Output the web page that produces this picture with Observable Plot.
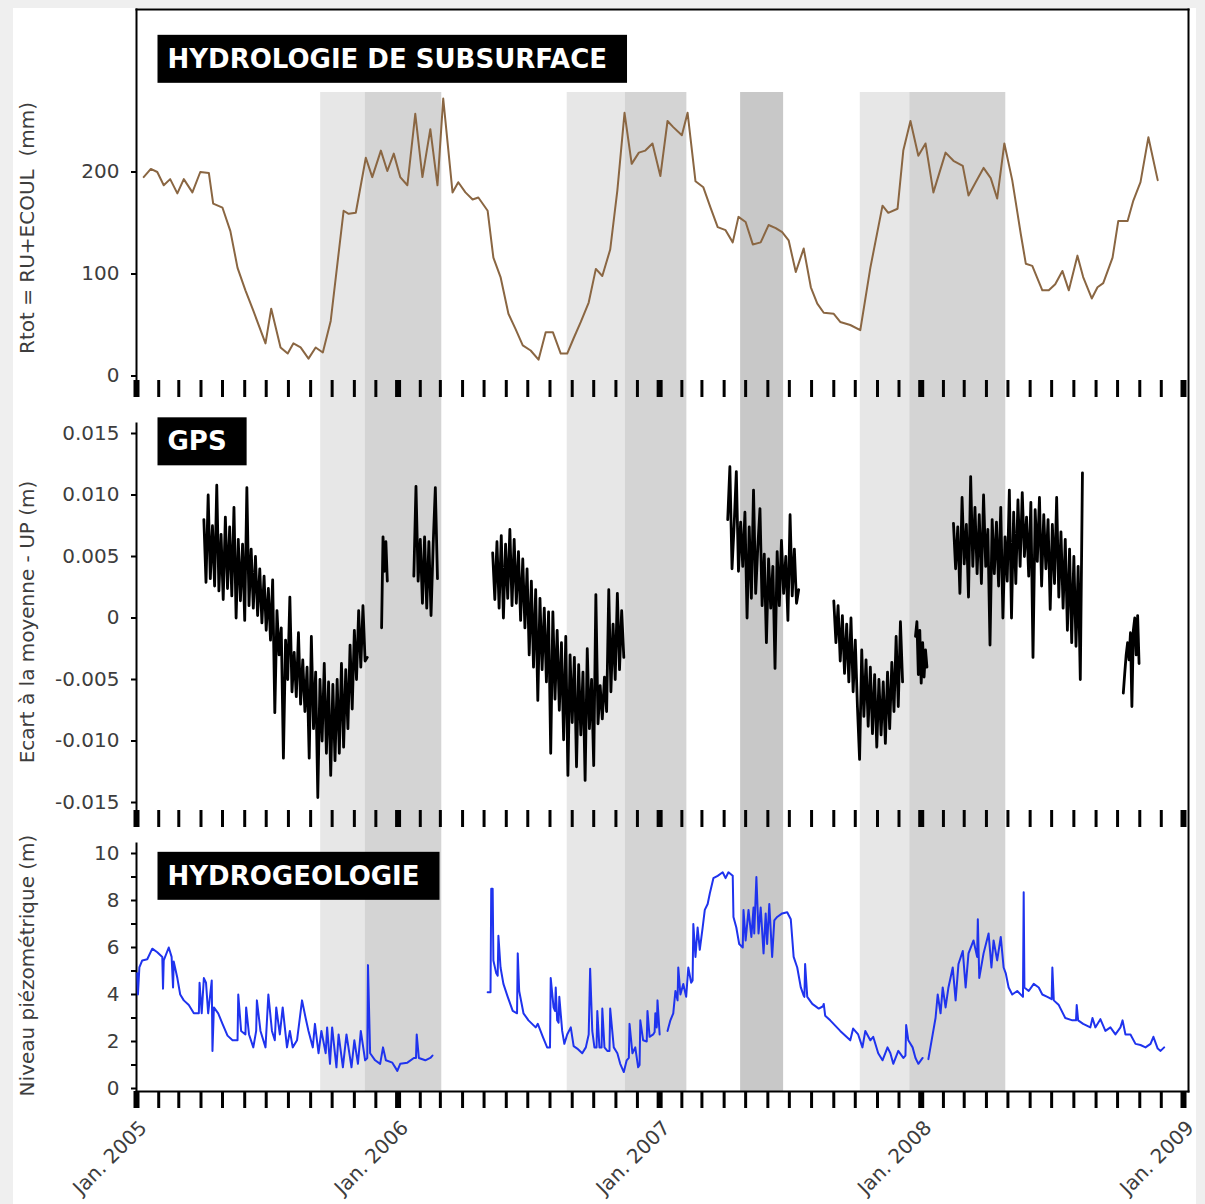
<!DOCTYPE html>
<html>
<head>
<meta charset="utf-8">
<script src="https://cdn.jsdelivr.net/npm/d3@7"></script>
<script src="https://cdn.jsdelivr.net/npm/@observablehq/plot@0.6"></script>
<style>
  body { margin: 0; background: #efefef; }
  #chart { position: relative; width: 1205px; height: 1204px; overflow: hidden; }
  #card { position: absolute; left: 13px; top: 8px; width: 1183px; height: 1196px; background: #fff; }
  #chart svg { position: absolute; left: 0; top: 0; }
</style>
</head>
<body>
<div id="chart"><div id="card"></div></div>
<script>
// ---- Data -----------------------------------------------------------------
// Time is stored as days since 1 January 2005.

// Rtot = RU + ECOUL (mm), ten-day values
const rtotDay = [10,20,29,38,47,57,66,78,89,101,107,120,131,141,152,163,180,188,201,211,
  219,229,240,250,260,271,289,296,306,320,329,341,350,359,368,378,389,399,410,420,
  428,441,449,459,469,477,490,498,508,519,529,539,550,561,571,581,592,601,610,620,
  631,641,650,661,671,681,691,701,710,720,731,741,749,761,769,780,791,801,811,822,
  832,840,850,860,871,882,892,901,910,920,931,941,950,959,973,982,996,1010,1024,1041,
  1049,1062,1070,1080,1091,1101,1112,1129,1140,1153,1161,1171,1182,1192,1201,1211,1222,1234,1241,1250,
  1264,1273,1282,1292,1301,1313,1321,1333,1341,1349,1362,1370,1383,1391,1401,1412,1425];
const rtotValue = [195,203,200,187,193,179,193,180,200,199,169,165,142,106,84,64,32,66,28,22,
  32,28,17,28,23,54,162,159,160,214,195,221,201,218,195,187,257,195,242,187,
  272,180,190,180,173,175,162,116,97,61,46,30,25,16,43,43,22,22,37,53,
  72,105,98,124,182,258,208,219,221,228,196,250,244,236,258,191,185,165,146,143,
  131,156,151,129,131,148,145,141,133,102,125,87,71,62,61,53,50,45,106,167,
  160,164,221,250,216,228,180,219,211,206,177,190,204,194,174,228,192,139,110,108,
  84,84,90,103,84,118,97,76,87,91,116,152,152,172,190,234,192];

// GPS vertical component, deviation from the mean (mm), one run per observation campaign
const gpsA = {start: 94, step: 3, mm: [8.0,2.9,10.0,3.2,7.5,2.6,10.8,2.2,6.8,1.5,8.2,2.4,7.4,1.8,9.0,0.0,6.4,1.4,6.0,-0.2,
  10.6,1.0,5.6,0.8,5.0,0.2,4.0,-0.4,3.4,-1.0,2.4,-1.8,3.1,-7.7,0.6,-3.0,-0.8,-11.4,-1.8,-5.0,
  1.7,-6.0,-2.8,-6.4,-1.2,-7.0,-3.4,-7.6,-4.0,-11.4,-1.5,-9.0,-4.4,-14.6,-5.0,-10.0,-3.7,-11.0,-5.2,-12.8,
  -5.4,-11.6,-5.0,-11.0,-3.7,-10.5,-4.2,-9.0,-2.2,-7.4,-1.0,-5.0,0.6,-4.0,1.0,-3.5,-3.2]};
const gpsB = {start: 342, step: 2, mm: [-0.8,6.6,3.8,6.2,3.0]};
const gpsC = {start: 387, step: 3, mm: [3.4,10.7,3.0,6.4,1.2,6.6,0.8,6.2,0.2,6.0,10.6,3.2]};
const gpsD = {start: 497, step: 3, mm: [5.3,1.5,6.2,0.8,6.7,0.0,6.0,1.6,7.2,1.0,6.4,1.2,5.4,-0.2,4.8,-0.8,4.0,-3.0,3.0,-4.0,
  2.3,-6.7,1.6,-4.2,0.8,-5.2,0.5,-11.0,0.5,-6.6,-1.0,-7.5,-2.0,-9.9,-1.5,-12.8,-3.0,-8.5,-3.2,-12.1,
  -3.8,-9.5,-4.4,-13.2,-2.5,-9.0,-5.0,-12.0,1.9,-8.6,-5.5,-8.2,-4.8,-7.6,2.3,-6.0,-0.5,-5.0,2.0,-4.2,0.6,-3.2]};
const gpsE = {start: 825, step: 3, mm: [8.0,12.3,4.0,7.6,11.9,3.8,7.8,4.2,8.6,0.0,7.4,1.6,10.4,2.0,5.8,8.9,1.0,5.2,-2.0,4.8,
  0.8,4.2,-4.1,5.4,1.0,6.3,2.0,5.0,-0.2,8.4,1.8,5.6,1.2,2.3]};
const gpsF = {start: 973, step: 3, mm: [1.4,-2.0,1.0,-3.5,0.2,-4.5,-0.5,-5.2,0.0,-6.0,-1.8,-7.2,-11.5,-2.6,-8.0,-3.4,-8.8,-4.0,-9.4,-4.6,
  -10.5,-5.0,-9.5,-5.2,-10.2,-4.4,-9.0,-3.6,-7.6,-1.5,-7.2,-0.3,-5.2]};
const gpsG = {start: 1087, step: 2, mm: [-1.5,-0.3,-4.6,-1.0,-5.3,-2.0,-4.8,-2.6,-4.0]};
const gpsH = {start: 1140, step: 3, mm: [7.7,4.0,7.4,2.0,9.8,4.4,7.6,1.7,11.5,4.2,9.0,3.6,8.4,2.8,10.0,4.2,7.2,-2.2,8.0,3.6,
  7.8,2.6,9.0,0.0,6.6,3.0,10.4,0.0,8.6,2.8,9.6,4.2,10.2,5.0,8.2,3.4,9.4,-3.2,8.8,4.6,
  9.8,2.6,8.4,4.0,8.0,0.7,7.6,2.8,9.8,1.7,7.0,0.8,6.4,-1.0,5.6,-2.0,5.0,-2.3,4.2,-5.0,11.8]};
const gpsI = {start: 1377, step: 2, mm: [-6.1,-4.5,-3.0,-2.0,-3.4,-1.2,-7.2,-1.0,0.0,-3.0,0.2,-3.7]};

// Piezometric level (m), [day, level] pairs per continuous record
const piezoA = [[1,4.9],[2,4.0],[4,5.15],[8,5.45],[15,5.5],[22,5.95],[29,5.8],[36,5.6],[37,4.25],[38,5.45],
  [45,6.0],[49,5.6],[51,4.3],[52,5.4],[57,4.7],[61,4.0],[66,3.75],[73,3.55],[80,3.2],[87,3.2],
  [88,4.5],[91,3.2],[94,4.7],[97,4.5],[100,3.2],[105,4.6],[106,1.6],[108,3.45],[114,3.2],[120,2.75],
  [127,2.25],[134,2.05],[141,2.05],[142,4.0],[146,2.45],[152,2.3],[153,3.45],[157,2.3],[163,1.75],[167,2.45],
  [168,3.75],[173,2.45],[180,1.75],[184,4.0],[189,2.45],[193,2.05],[195,3.45],[200,2.3],[204,3.45],[210,1.75],
  [214,2.45],[218,1.75],[224,2.05],[231,3.75],[236,3.0],[240,2.45],[246,1.75],[249,2.75],[254,1.5],[258,2.45],
  [264,1.5],[266,2.6],[270,1.05],[273,2.6],[279,0.9],[282,2.3],[288,0.9],[293,2.3],[300,0.9],[304,2.05],
  [309,1.05],[313,2.45],[319,1.2],[322,1.3],[323,5.25],[326,1.5],[333,1.2],[340,1.05],[344,1.75],[348,1.2],
  [357,1.1],[364,0.75],[368,1.05],[378,1.1],[387,1.3],[390,1.3],[391,2.3],[394,1.3],[403,1.2],[410,1.3],[413,1.4]];
const piezoB = [[490,4.1],[494,4.1],[495,8.5],[497,8.5],[498,5.45],[502,4.9],[504,4.8],[505,6.5],[508,5.15],[512,4.45],
  [518,3.9],[525,3.3],[531,3.2],[532,5.75],[534,4.15],[540,3.2],[547,2.9],[557,2.6],[560,2.75],[567,2.2],
  [573,1.75],[577,1.75],[578,4.7],[582,3.45],[584,3.3],[585,4.3],[587,2.9],[589,2.8],[590,3.9],[594,2.45],
  [597,1.9],[601,2.3],[606,2.6],[610,1.8],[615,1.7],[622,1.5],[627,1.75],[631,2.3],[633,5.1],[636,2.45],
  [639,1.75],[642,1.75],[643,3.3],[646,1.75],[649,1.75],[650,3.4],[653,1.75],[657,1.6],[660,1.6],[661,3.4],
  [666,1.75],[671,1.5],[675,1.05],[680,0.7],[684,1.2],[687,1.3],[688,2.75],[692,1.5],[696,1.75],[700,0.9],
  [702,1.0],[703,2.9],[707,2.05],[712,2.0],[713,3.3],[716,2.2],[721,2.3],[723,2.4],[724,3.2],[726,2.6],
  [727,3.75],[730,2.3]];
const piezoC = [[741,2.45],[745,2.9],[749,3.2],[752,4.15],[755,3.75],[756,5.15],[759,4.0],[763,4.45],[767,3.9],[770,5.15],
  [774,4.5],[776,4.6],[777,7.0],[780,5.6],[783,6.85],[786,5.9],[790,6.85],[793,7.6],[797,7.85],[800,8.3],
  [805,8.95],[811,9.05],[818,9.2],[822,8.95],[826,9.2],[832,9.05],[833,7.3],[837,6.85],[841,6.15],[846,6.0],
  [847,7.6],[850,6.3],[854,7.6],[858,6.45],[861,7.7],[862,6.6],[865,9.0],[868,6.6],[871,7.7],[875,5.75],
  [878,7.45],[880,6.15],[883,7.85],[887,5.6],[890,7.15],[894,7.3],[901,7.45],[908,7.5],[913,7.2],[917,5.6],
  [922,5.15],[927,4.3],[931,3.95],[932,3.9],[933,5.3],[936,3.9],[943,3.6],[952,3.4],[958,3.5],[959,3.6],
  [961,3.1],[968,2.9],[982,2.45],[996,2.05],[1000,2.55],[1007,2.3],[1013,1.75],[1017,2.45],[1024,2.05],[1028,2.2],
  [1035,1.5],[1041,1.2],[1048,1.75],[1052,1.5],[1056,1.05],[1063,1.6],[1070,1.3],[1073,1.4],[1074,2.7],[1077,2.05],
  [1083,1.75],[1087,1.3],[1091,1.05],[1097,1.3]];
const piezoD = [[1105,1.25],[1111,2.3],[1115,3.0],[1118,4.0],[1122,3.2],[1125,4.3],[1129,3.45],[1133,4.3],[1139,5.15],[1143,3.75],
  [1147,5.3],[1153,5.85],[1157,4.3],[1161,5.75],[1168,6.3],[1173,5.6],[1174,7.2],[1176,4.7],[1182,5.75],[1189,6.6],
  [1193,5.15],[1196,6.3],[1201,5.45],[1206,6.45],[1210,5.15],[1213,4.9],[1217,4.3],[1222,4.0],[1229,4.15],[1237,3.9],
  [1238,8.35],[1239,4.3],[1245,4.15],[1252,4.45],[1259,4.3],[1264,4.0],[1271,3.9],[1277,3.8],[1278,5.15],[1280,3.75],
  [1287,3.55],[1296,3.0],[1306,2.9],[1311,2.9],[1312,3.55],[1314,2.9],[1321,2.75],[1331,2.6],[1334,3.0],[1338,2.6],
  [1345,2.95],[1352,2.45],[1359,2.6],[1366,2.3],[1373,2.6],[1376,2.9],[1380,2.3],[1387,2.3],[1394,1.9],[1401,1.85],
  [1408,1.75],[1415,1.9],[1419,2.2],[1425,1.7],[1429,1.6],[1434,1.75]];

// Shaded periods
const periodStart = ["2005-09-15","2005-11-16","2006-08-25","2006-11-14","2007-04-24","2007-10-08","2007-12-16"];
const periodEnd   = ["2005-11-16","2006-03-03","2006-11-14","2007-02-08","2007-06-23","2007-12-16","2008-04-28"];
const periodTone  = ["light","mid","light","mid","dark","light","mid"];

// Panel headings and axis titles
const panelNames = ["HYDROLOGIE DE SUBSURFACE", "GPS", "HYDROGEOLOGIE"];
const yTitles = ["Rtot = RU+ECOUL \u00a0(mm)", "Ecart à la moyenne - UP (m)", "Niveau piézométrique (m)"];

// ---- Derived tables --------------------------------------------------------
const t0 = Date.UTC(2005, 0, 1);
const at = d => new Date(t0 + d * 864e5);

const rtot = rtotDay.map((d, i) => ({date: at(d), value: rtotValue[i]}));
const gps = [gpsA, gpsB, gpsC, gpsD, gpsE, gpsF, gpsG, gpsH, gpsI]
  .flatMap((s, k) => s.mm.map((v, i) => ({date: at(s.start + i * s.step), up: v / 1000, run: k})));
const piezo = [piezoA, piezoB, piezoC, piezoD]
  .flatMap((s, k) => s.map(([d, v]) => ({date: at(d), level: v, run: k})));
const periods = periodStart.map((s, i) => ({start: new Date(s), end: new Date(periodEnd[i]), tone: periodTone[i]}));

// ---- Layout ----------------------------------------------------------------
const W = 1205, H = 1204;
const LEFT = 136, RIGHT = 1188;
const months = d3.utcMonth.range(new Date(Date.UTC(2005, 0, 1)), new Date(Date.UTC(2009, 0, 2)));
const years = d3.utcYear.range(new Date(Date.UTC(2005, 0, 1)), new Date(Date.UTC(2009, 0, 2)));
const x = {type: "utc", domain: [new Date(Date.UTC(2005, 0, 1)), new Date(Date.UTC(2009, 0, 1))], range: [LEFT, 1183]};
const style = {fontFamily: "'DejaVu Sans', sans-serif", fontSize: "20px", background: "transparent", overflow: "visible", color: "black"};
const textColor = "#3d3d3d";

// month ticks with thicker year ticks, hanging below a panel
const tickRow = () => [
  Plot.axisX({ticks: months, tickSize: 17, tickFormat: () => "", stroke: "black", strokeWidth: 3, label: null}),
  Plot.axisX({ticks: years, tickSize: 17, tickFormat: () => "", stroke: "black", strokeWidth: 6, label: null})
];
const yTitle = (text, dy) => Plot.text([text], {text: d => d, frameAnchor: "left", textAnchor: "middle", lineAnchor: "middle",
  rotate: -90, dx: 27 - LEFT, dy, fill: textColor});
const heading = (text, dy) => Plot.text([text], {text: d => d, frameAnchor: "top-left", dx: 31, dy, textAnchor: "start",
  lineAnchor: "middle", fill: "white", fontWeight: "bold", fontSize: 26});
const frameFor = (top, bottom) => ({width: W, height: H, marginTop: top, marginBottom: H - bottom, marginLeft: LEFT, marginRight: W - RIGHT});

// shaded periods and the right edge of the box
const base = Plot.plot({
  ...frameFor(9, 1091), style,
  x: {...x, axis: null},
  color: {domain: ["light", "mid", "dark"], range: ["#e7e7e7", "#d4d4d4", "#c8c8c8"]},
  marks: [
    Plot.barX(periods, {x1: "start", x2: "end", fill: "tone", insetTop: 83}),
    Plot.frame({anchor: "right", strokeWidth: 2})
  ]
});

// subsurface hydrology
const p1 = Plot.plot({
  ...frameFor(9, 380), style, x,
  y: {domain: [0, 200], range: [375.5, 171.5]},
  marks: [
    Plot.frame({anchor: "top", strokeWidth: 2}),
    Plot.frame({anchor: "left", strokeWidth: 2}),
    ...tickRow(),
    Plot.axisY({ticks: [0, 100, 200], tickSize: 5, tickPadding: 12, stroke: "black", strokeWidth: 2, color: textColor, label: null}),
    yTitle(yTitles[0], 33),
    Plot.line(rtot, {x: "date", y: "value", stroke: "#8a6642", strokeWidth: 2}),
    heading(panelNames[0], 50)
  ]
});

// GPS
const p2 = Plot.plot({
  ...frameFor(423, 810), style, x,
  y: {domain: [-0.015, 0.015], range: [802, 433]},
  marks: [
    Plot.frame({anchor: "left", strokeWidth: 2}),
    ...tickRow(),
    Plot.axisY({ticks: [-0.015, -0.01, -0.005, 0, 0.005, 0.01, 0.015], tickFormat: d => d === 0 ? "0" : d.toFixed(3),
      tickSize: 5, tickPadding: 12, stroke: "black", strokeWidth: 2, color: textColor, label: null}),
    yTitle(yTitles[1], 5),
    Plot.line(gps, {x: "date", y: "up", z: "run", stroke: "black", strokeWidth: 2.8}),
    heading(panelNames[1], 18.5)
  ]
});

// hydrogeology
const p3 = Plot.plot({
  ...frameFor(843, 1091), style, x,
  y: {domain: [0, 10], range: [1088, 853]},
  marks: [
    Plot.frame({anchor: "left", strokeWidth: 2}),
    Plot.frame({anchor: "bottom", strokeWidth: 2}),
    ...tickRow(),
    Plot.axisX({ticks: years, tickSize: 0, tickPadding: 33, tickRotate: -45, dx: 7,
      tickFormat: d => `Jan. ${d.getUTCFullYear()}`, color: textColor, label: null}),
    Plot.axisY({ticks: [0, 2, 4, 6, 8, 10], tickSize: 5, tickPadding: 12, stroke: "black", strokeWidth: 2, color: textColor, label: null}),
    Plot.axisY({ticks: [1, 3, 5, 7, 9], tickSize: 5, tickFormat: () => "", stroke: "black", strokeWidth: 2, label: null}),
    yTitle(yTitles[2], -2),
    Plot.line(piezo, {x: "date", y: "level", z: "run", stroke: "#1f33ee", strokeWidth: 2}),
    heading(panelNames[2], 33)
  ]
});

const chart = document.getElementById("chart");
[base, p1, p2, p3].forEach(svg => chart.appendChild(svg));

// black label boxes sized from the heading text
const origin = chart.getBoundingClientRect();
for (const svg of chart.querySelectorAll("svg")) {
  for (const t of svg.querySelectorAll("text")) {
    if (!panelNames.includes(t.textContent)) continue;
    const r = t.getBoundingClientRect();
    let node = t;
    while (node.parentNode !== svg) node = node.parentNode;
    const box = document.createElementNS("http://www.w3.org/2000/svg", "rect");
    box.setAttribute("x", r.left - origin.left - 10);
    box.setAttribute("y", (r.top + r.bottom) / 2 - origin.top - 24);
    box.setAttribute("width", r.width + 30);
    box.setAttribute("height", 48);
    box.setAttribute("fill", "black");
    svg.insertBefore(box, node);
  }
}
</script>
</body>
</html>
